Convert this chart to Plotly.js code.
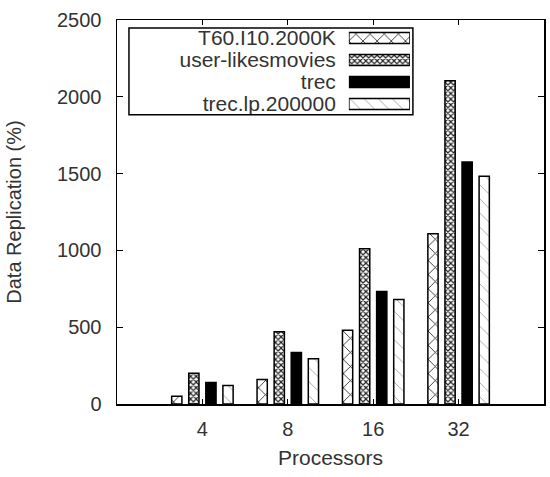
<!DOCTYPE html>
<html>
<head>
<meta charset="utf-8">
<script src="https://cdn.plot.ly/plotly-3.0.1.min.js"></script>
<style>html,body{margin:0;padding:0;background:#fff;}#chart{width:550px;height:477px;}</style>
</head>
<body>
<div id="chart"></div>
<script>
var processors = ['4', '8', '16', '32'];
var seriesNames = ['T60.I10.2000K', 'user-likesmovies', 'trec', 'trec.lp.200000'];
var t60 = [50, 160, 480, 1108];
var userLikes = [200, 470, 1010, 2104];
var trec = [140, 335, 732, 1576];
var trecLp = [120, 295, 680, 1483];
var seriesValues = [t60, userLikes, trec, trecLp];

var patterns = [
  {shape: 'x', fgcolor: '#111', bgcolor: '#fff', size: 10, solidity: 0.15, fillmode: 'replace'},
  {shape: 'x', fgcolor: '#222', bgcolor: '#fff', size: 4, solidity: 0.5, fillmode: 'replace'},
  {shape: '', fgcolor: '#000', bgcolor: '#000', size: 8, solidity: 1, fillmode: 'replace'},
  {shape: '\\', fgcolor: '#999', bgcolor: '#fff', size: 10, solidity: 0.08, fillmode: 'replace'}
];
var fills = ['#fff', '#fff', '#000', '#fff'];

var font = 'Liberation Sans, Arial, sans-serif';
var traces = [];
for (var i = 0; i < 4; i++) {
  traces.push({
    type: 'bar', x: processors, y: seriesValues[i], name: seriesNames[i],
    marker: {color: fills[i], pattern: patterns[i], line: {color: '#000', width: 1.5}},
    showlegend: false, xaxis: 'x', yaxis: 'y', hoverinfo: 'skip'
  });
}
// legend samples: horizontal bars on a small key subplot
for (var j = 0; j < 4; j++) {
  traces.push({
    type: 'bar', orientation: 'h', x: [1], y: [seriesNames[j]], name: seriesNames[j],
    marker: {color: fills[j], pattern: patterns[j], line: {color: '#000', width: 1.5}},
    width: 0.5, showlegend: false, xaxis: 'x2', yaxis: 'y2', hoverinfo: 'skip'
  });
}

var layout = {
  width: 550, height: 477,
  margin: {l: 117, r: 6, t: 20, b: 73},
  paper_bgcolor: '#fff', plot_bgcolor: '#fff',
  font: {family: font, size: 20, color: '#333'},
  barmode: 'group', bargap: 0.2, bargroupgap: 0.4,
  showlegend: false,
  xaxis: {
    type: 'category', range: [-1, 4], domain: [0, 1],
    showline: true, linecolor: '#000', linewidth: 1.5, mirror: 'allticks',
    ticks: 'inside', ticklen: 5, tickcolor: '#000', tickwidth: 1,
    showgrid: false, zeroline: false, ticklabelstandoff: 6,
    tickfont: {size: 20, color: '#333'},
    title: {text: 'Processors', font: {size: 21, color: '#333'}, standoff: 12}
  },
  yaxis: {
    range: [0, 2500], dtick: 500, domain: [0, 1],
    showline: true, linecolor: '#000', linewidth: 1.5, mirror: 'allticks',
    ticks: 'inside', ticklen: 6, tickcolor: '#000', tickwidth: 1,
    showgrid: false, zeroline: false, ticklabelstandoff: 10,
    tickfont: {size: 20, color: '#333'},
    title: {text: 'Data Replication (%)', font: {size: 20, color: '#333'}, standoff: 30}
  },
  xaxis2: {
    domain: [0.543, 0.686], range: [0, 1], anchor: 'y2',
    visible: false, fixedrange: true
  },
  yaxis2: {
    domain: [0.7526, 0.982], anchor: 'x2', type: 'category',
    autorange: 'reversed', showline: false, showgrid: false, zeroline: false,
    tickmode: 'array', tickvals: seriesNames, ticktext: seriesNames,
    ticks: '', ticklabelstandoff: 12,
    tickfont: {size: 21, color: '#333'}
  },
  shapes: [{
    type: 'rect', xref: 'paper', yref: 'paper',
    x0: 0.028, x1: 0.693, y0: 0.753, y1: 0.979,
    line: {color: '#000', width: 1.5}, fillcolor: 'rgba(0,0,0,0)', layer: 'above'
  }]
};

Plotly.newPlot('chart', traces, layout, {displayModeBar: false, staticPlot: true});
</script>
</body>
</html>
